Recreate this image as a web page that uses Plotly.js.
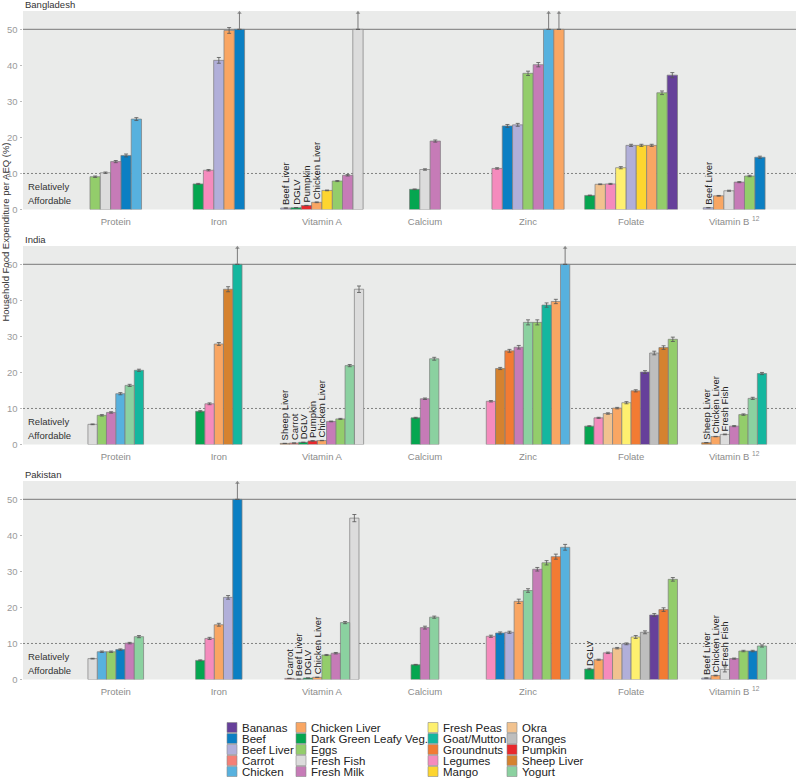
<!DOCTYPE html>
<html>
<head>
<meta charset="utf-8">
<script src="https://cdn.plot.ly/plotly-3.0.1.min.js"></script>
<style>html,body{margin:0;padding:0;background:#fff;}#chart{width:796px;height:778px;}</style>
</head>
<body>
<div id="chart"></div>
<script>
// ---------- categories ----------
const nutrients = ["Protein","Iron","Vitamin A","Calcium","Zinc","Folate","Vitamin B12"];
const nutrientTicks = ["Protein","Iron","Vitamin A","Calcium","Zinc","Folate","Vitamin B <sup>12</sup>"];
const countries = ["Bangladesh","India","Pakistan"];

const foodNames = ["Bananas","Beef","Beef Liver","Carrot","Chicken","Chicken Liver","Dark Green Leafy Veg.","Eggs","Fresh Fish","Fresh Milk","Fresh Peas","Goat/Mutton","Groundnuts","Legumes","Mango","Okra","Oranges","Pumpkin","Sheep Liver","Yogurt"];
const foodColors = ["#66409a","#0b7fc3","#b1afd9","#f47f76","#57b1de","#f9a663","#05a650","#93cd6b","#dcdcdc","#c67bb7","#fef06f","#14b79f","#f27b33","#f58bbd","#fdd52f","#f1c28f","#bebebe","#e8282c","#d5822f","#8bd1a0"];

const CAP = 50; // values above this are drawn to the cap with an arrow
const DG = "Dark Green Leafy Veg.";

// ---------- Bangladesh ----------
const bdProteinFoods = ["Eggs","Fresh Fish","Fresh Milk","Beef","Chicken"];
const bdProteinPct   = [9.1, 10.2, 13.3, 15.0, 25.1];
const bdProteinErr   = [0.2, 0.2, 0.3, 0.4, 0.4];

const bdIronFoods = [DG,"Legumes","Beef Liver","Chicken Liver","Beef"];
const bdIronPct   = [7.1, 10.9, 41.4, 49.7, 60];
const bdIronErr   = [0.15, 0.2, 0.8, 0.8, 0];

const bdVitAFoods = ["Beef Liver",DG,"Pumpkin","Chicken Liver","Mango","Eggs","Fresh Milk","Fresh Fish"];
const bdVitAPct   = [0.4, 0.5, 1.1, 2.0, 5.3, 7.9, 9.5, 60];
const bdVitAErr   = [0.05, 0.05, 0.05, 0.1, 0.1, 0.15, 0.2, 0];
const bdVitALab   = ["Beef Liver","DGLV","Pumpkin","Chicken Liver","","","",""];

const bdCalciumFoods = [DG,"Fresh Fish","Fresh Milk"];
const bdCalciumPct   = [5.6, 11.1, 19.0];
const bdCalciumErr   = [0.1, 0.2, 0.3];

const bdZincFoods = ["Legumes","Beef","Beef Liver","Eggs","Fresh Milk","Chicken","Chicken Liver"];
const bdZincPct   = [11.4, 23.2, 23.5, 37.8, 40.2, 60, 60];
const bdZincErr   = [0.2, 0.4, 0.4, 0.6, 0.6, 0, 0];

const bdFolateFoods = [DG,"Okra","Legumes","Fresh Peas","Beef Liver","Mango","Chicken Liver","Eggs","Bananas"];
const bdFolatePct   = [3.9, 7.0, 7.1, 11.6, 17.8, 17.8, 17.8, 32.4, 37.3];
const bdFolateErr   = [0.1, 0.1, 0.15, 0.3, 0.3, 0.3, 0.3, 0.5, 0.7];

const bdB12Foods = ["Beef Liver","Chicken Liver","Fresh Fish","Fresh Milk","Eggs","Beef"];
const bdB12Pct   = [0.5, 3.8, 5.2, 7.6, 9.3, 14.5];
const bdB12Err   = [0.05, 0.1, 0.15, 0.15, 0.2, 0.3];
const bdB12Lab   = ["Beef Liver","","","","",""];

// ---------- India ----------
const inProteinFoods = ["Fresh Fish","Eggs","Fresh Milk","Chicken","Yogurt","Goat/Mutton"];
const inProteinPct   = [5.6, 8.1, 8.9, 14.1, 16.4, 20.6];
const inProteinErr   = [0.1, 0.2, 0.2, 0.3, 0.3, 0.3];

const inIronFoods = [DG,"Legumes","Chicken Liver","Sheep Liver","Goat/Mutton"];
const inIronPct   = [9.2, 11.3, 27.9, 43.1, 60];
const inIronErr   = [0.2, 0.25, 0.4, 0.7, 0];

const inVitAFoods = ["Sheep Liver","Carrot",DG,"Pumpkin","Chicken Liver","Fresh Milk","Eggs","Yogurt","Fresh Fish"];
const inVitAPct   = [0.3, 0.4, 0.6, 1.0, 1.1, 6.4, 7.1, 21.9, 43.1];
const inVitAErr   = [0.02, 0.02, 0.03, 0.05, 0.05, 0.1, 0.15, 0.3, 0.9];
const inVitALab   = ["Sheep Liver","Carrot","DGLV","Pumpkin","Chicken Liver","","","",""];

const inCalciumFoods = [DG,"Fresh Milk","Yogurt"];
const inCalciumPct   = [7.4, 12.7, 23.8];
const inCalciumErr   = [0.15, 0.2, 0.4];

const inZincFoods = ["Legumes","Sheep Liver","Groundnuts","Fresh Milk","Yogurt","Eggs","Goat/Mutton","Chicken Liver","Chicken"];
const inZincPct   = [12.0, 21.1, 26.0, 27.0, 33.9, 33.9, 38.7, 39.7, 60];
const inZincErr   = [0.2, 0.3, 0.4, 0.5, 0.7, 0.7, 0.6, 0.6, 0];

const inFolateFoods = [DG,"Legumes","Okra","Chicken Liver","Fresh Peas","Groundnuts","Bananas","Oranges","Sheep Liver","Eggs"];
const inFolatePct   = [5.1, 7.4, 8.6, 10.1, 11.6, 14.9, 20.1, 25.4, 26.9, 29.2];
const inFolateErr   = [0.1, 0.15, 0.2, 0.2, 0.3, 0.3, 0.4, 0.5, 0.5, 0.6];

const inB12Foods = ["Sheep Liver","Chicken Liver","Fresh Fish","Fresh Milk","Eggs","Yogurt","Goat/Mutton"];
const inB12Pct   = [0.5, 2.2, 2.8, 5.1, 8.3, 12.8, 19.7];
const inB12Err   = [0.05, 0.05, 0.1, 0.15, 0.2, 0.3, 0.3];
const inB12Lab   = ["Sheep Liver","Chicken Liver","Fresh Fish","","","",""];

// ---------- Pakistan ----------
const pkProteinFoods = ["Fresh Fish","Chicken","Eggs","Beef","Fresh Milk","Yogurt"];
const pkProteinPct   = [5.8, 7.7, 7.7, 8.3, 10.1, 11.9];
const pkProteinErr   = [0.1, 0.2, 0.2, 0.2, 0.2, 0.3];

const pkIronFoods = [DG,"Legumes","Chicken Liver","Beef Liver","Beef"];
const pkIronPct   = [5.3, 11.4, 15.2, 22.8, 60];
const pkIronErr   = [0.15, 0.3, 0.4, 0.5, 0];

const pkVitAFoods = ["Carrot","Beef Liver",DG,"Chicken Liver","Eggs","Fresh Milk","Yogurt","Fresh Fish"];
const pkVitAPct   = [0.3, 0.1, 0.4, 0.6, 6.8, 7.3, 15.8, 44.8];
const pkVitAErr   = [0.02, 0.02, 0.03, 0.05, 0.15, 0.2, 0.3, 1.0];
const pkVitALab   = ["Carrot","Beef Liver","DGLV","Chicken Liver","","","",""];

const pkCalciumFoods = [DG,"Fresh Milk","Yogurt"];
const pkCalciumPct   = [4.1, 14.4, 17.3];
const pkCalciumErr   = [0.1, 0.4, 0.3];

const pkZincFoods = ["Legumes","Beef","Beef Liver","Chicken Liver","Yogurt","Fresh Milk","Eggs","Groundnuts","Chicken"];
const pkZincPct   = [12.0, 12.9, 13.1, 21.7, 24.7, 30.6, 32.4, 34.1, 36.7];
const pkZincErr   = [0.3, 0.3, 0.3, 0.6, 0.5, 0.5, 0.6, 0.7, 0.8];

const pkFolateFoods = [DG,"Chicken Liver","Legumes","Okra","Beef Liver","Fresh Peas","Oranges","Bananas","Groundnuts","Eggs"];
const pkFolatePct   = [2.9, 5.5, 7.4, 8.7, 9.9, 11.8, 13.1, 17.9, 19.4, 27.8];
const pkFolateErr   = [0.2, 0.15, 0.2, 0.2, 0.25, 0.4, 0.4, 0.4, 0.5, 0.5];
const pkFolateLab   = ["DGLV","","","","","","","","",""];

const pkB12Foods = ["Beef Liver","Chicken Liver","Fresh Fish","Fresh Milk","Eggs","Beef","Yogurt"];
const pkB12Pct   = [0.4, 1.1, 2.8, 5.8, 7.9, 7.9, 9.3];
const pkB12Err   = [0.05, 0.1, 0.7, 0.15, 0.2, 0.2, 0.3];
const pkB12Lab   = ["Beef Liver","Chicken Liver","Fresh Fish","","","",""];

// ---------- assembly ----------
const panelGroups = [
  [[bdProteinFoods,bdProteinPct,bdProteinErr,null],[bdIronFoods,bdIronPct,bdIronErr,null],[bdVitAFoods,bdVitAPct,bdVitAErr,bdVitALab],
   [bdCalciumFoods,bdCalciumPct,bdCalciumErr,null],[bdZincFoods,bdZincPct,bdZincErr,null],[bdFolateFoods,bdFolatePct,bdFolateErr,null],[bdB12Foods,bdB12Pct,bdB12Err,bdB12Lab]],
  [[inProteinFoods,inProteinPct,inProteinErr,null],[inIronFoods,inIronPct,inIronErr,null],[inVitAFoods,inVitAPct,inVitAErr,inVitALab],
   [inCalciumFoods,inCalciumPct,inCalciumErr,null],[inZincFoods,inZincPct,inZincErr,null],[inFolateFoods,inFolatePct,inFolateErr,null],[inB12Foods,inB12Pct,inB12Err,inB12Lab]],
  [[pkProteinFoods,pkProteinPct,pkProteinErr,null],[pkIronFoods,pkIronPct,pkIronErr,null],[pkVitAFoods,pkVitAPct,pkVitAErr,pkVitALab],
   [pkCalciumFoods,pkCalciumPct,pkCalciumErr,null],[pkZincFoods,pkZincPct,pkZincErr,null],[pkFolateFoods,pkFolatePct,pkFolateErr,pkFolateLab],[pkB12Foods,pkB12Pct,pkB12Err,pkB12Lab]]
];

const W = 796, H = 778;
const px = v => v / W;
const py = v => 1 - v / H;
const FONT = "Liberation Sans, Arial, sans-serif";
const panelTop = [11, 246, 481];
const panelBottom = [209.5, 444.5, 679.5];
const YMAX = 55.1;
const ARROW_TOP = 54.6;
const DODGE = 0.9;

const traces = [];
const annotations = [];
const shapes = [];
const layout = {
  width: W, height: H,
  margin: {l: 0, r: 0, t: 0, b: 0},
  paper_bgcolor: "#ffffff",
  plot_bgcolor: "#eaebea",
  barmode: "overlay",
  showlegend: false,
  font: {family: FONT, size: 9.5, color: "#333"}
};

panelGroups.forEach((groups, p) => {
  const sfx = p === 0 ? "" : String(p + 1);
  const xa = "x" + sfx, ya = "y" + sfx;
  const maxN = Math.max(...groups.map(g => g[0].length));
  const w = DODGE / maxN;
  const arrowX = [], arrowY = [], arrowSize = [];

  layout["xaxis" + sfx] = {
    domain: [px(23), 1], range: [-0.9, 6.6], anchor: ya,
    tickmode: "array", tickvals: nutrients.map((_, i) => i), ticktext: nutrientTicks,
    tickfont: {family: FONT, size: 9.5, color: "#8c8c8c"},
    ticks: "outside", ticklen: 3, tickcolor: "rgba(0,0,0,0)",
    showgrid: false, zeroline: false, showline: false, fixedrange: true
  };
  layout["yaxis" + sfx] = {
    domain: [py(panelBottom[p]), py(panelTop[p])], range: [0, YMAX], anchor: xa,
    tickmode: "array", tickvals: [0, 10, 20, 30, 40, 50],
    tickfont: {family: FONT, size: 9.5, color: "#9a9a9a"},
    ticks: "outside", ticklen: 2.5, tickcolor: "#aaaaaa", tickwidth: 0.8,
    showgrid: false, zeroline: false, showline: false, fixedrange: true
  };

  foodNames.forEach((food, fi) => {
    const xs = [], ys = [], es = [], ts = [];
    groups.forEach((g, gi) => {
      const [foods, pct, err, lab] = g;
      const n = foods.length;
      foods.forEach((f, j) => {
        if (f !== food) return;
        const x = gi + (j - (n - 1) / 2) * w;
        const v = pct[j];
        xs.push(x);
        ys.push(Math.min(v, CAP));
        es.push(v > CAP ? 0 : err[j]);
        ts.push(lab ? lab[j] : "");
        if (v > CAP) {
          arrowX.push(x, x, null);
          arrowY.push(CAP, ARROW_TOP, null);
          arrowSize.push(0, 4, 0);
        }
      });
    });
    if (!xs.length) return;
    traces.push({
      type: "bar", name: food, x: xs, y: ys, width: w, xaxis: xa, yaxis: ya,
      marker: {color: foodColors[fi], line: {color: "#7d7d7d", width: 0.7}},
      error_y: {type: "data", array: es, visible: true, color: "#555555", thickness: 0.8, width: 2},
      text: ts, textposition: "outside", textangle: -90, constraintext: "none", cliponaxis: false,
      textfont: {family: FONT, size: 9.5, color: "#222"},
      showlegend: false, hoverinfo: "x+y"
    });
  });

  // arrows for values beyond the cap
  if (arrowX.length) {
    traces.push({type: "scatter", mode: "lines+markers", x: arrowX, y: arrowY, xaxis: xa, yaxis: ya,
                 line: {color: "#7a7a7a", width: 1},
                 marker: {symbol: "triangle-up", size: arrowSize, color: "#666666", line: {width: 0}},
                 showlegend: false, hoverinfo: "skip", cliponaxis: false});
  }

  // reference lines
  shapes.push({type: "line", xref: xa + " domain", yref: ya, x0: 0, x1: 1, y0: 50, y1: 50,
               line: {color: "#8f8f8f", width: 1.2}, layer: "below"});
  shapes.push({type: "line", xref: xa + " domain", yref: ya, x0: 0, x1: 1, y0: 10, y1: 10,
               line: {color: "#555555", width: 0.7, dash: "2px,2px"}, layer: "below"});

  // panel title
  annotations.push({text: countries[p], xref: "paper", yref: ya + " domain", x: px(23), y: 1,
                    xanchor: "left", yanchor: "middle", yshift: 6.5, showarrow: false,
                    font: {family: FONT, size: 9.5, color: "#333"}});
  // relatively affordable
  annotations.push({text: "Relatively", xref: "paper", yref: ya, x: px(25.5), y: 6.3,
                    xanchor: "left", yanchor: "middle", showarrow: false,
                    font: {family: FONT, size: 9.5, color: "#333"}});
  annotations.push({text: "Affordable", xref: "paper", yref: ya, x: px(25.5), y: 2.4,
                    xanchor: "left", yanchor: "middle", showarrow: false,
                    font: {family: FONT, size: 9.5, color: "#333"}});
});

// y axis title
annotations.push({text: "Household Food Expenditure per AEQ (%)", xref: "paper", yref: "paper",
                  x: px(5), y: py(232.5), textangle: -90, xanchor: "center", yanchor: "middle",
                  showarrow: false, font: {family: FONT, size: 9.5, color: "#333"}});

// legend (4 columns x 5 rows, alphabetical, column-major)
const legendColX = [227, 296, 428, 507];
const legendRowY = [727.5, 738.5, 749.5, 760.5, 771.5];
foodNames.forEach((food, i) => {
  const c = Math.floor(i / 5), r = i % 5;
  const x0 = legendColX[c], yc = legendRowY[r];
  shapes.push({type: "rect", xref: "paper", yref: "paper",
               x0: px(x0), x1: px(x0 + 10), y0: py(yc + 5), y1: py(yc - 5),
               fillcolor: foodColors[i], line: {color: "#8a8a8a", width: 0.6}});
  annotations.push({text: food, xref: "paper", yref: "paper", x: px(x0 + 13), y: py(yc),
                    xanchor: "left", yanchor: "middle", showarrow: false,
                    font: {family: FONT, size: 11.5, color: "#222"}});
});

layout.shapes = shapes;
layout.annotations = annotations;

Plotly.newPlot("chart", traces, layout, {staticPlot: true, displayModeBar: false});
</script>
</body>
</html>
